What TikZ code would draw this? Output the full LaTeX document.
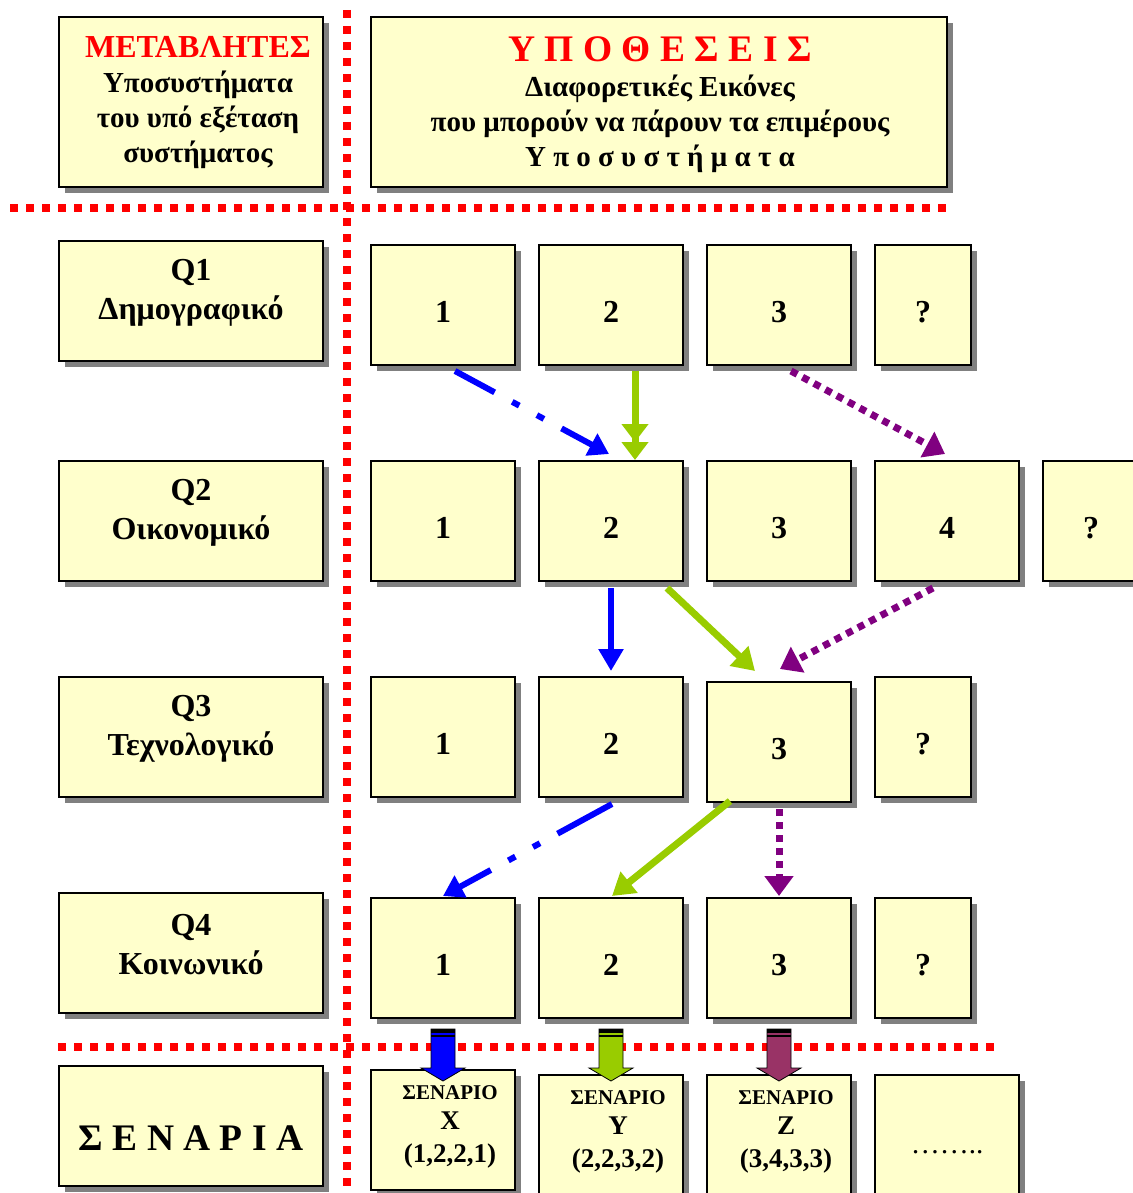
\documentclass[tikz,border=0pt]{standalone}
\usepackage{fontspec}
\setmainfont{Liberation Serif}
\usetikzlibrary{shadows,arrows.meta}

\definecolor{boxfill}{HTML}{FFFFCC}
\definecolor{ablue}{HTML}{0000FF}
\definecolor{agreen}{HTML}{99CC00}
\definecolor{apurple}{HTML}{800080}
\definecolor{amaroon}{HTML}{993366}

\tikzset{
  box/.style={draw, line width=2pt, fill=boxfill, inner sep=0pt,
    drop shadow={shadow xshift=6pt, shadow yshift=-6pt, opacity=1, fill=black!50},
    minimum width=144pt, minimum height=120pt, text height=34pt, text depth=0pt,
    font=\bfseries\fontsize{32}{36}\selectfont},
  txt/.style={align=center, inner sep=0pt, font=\bfseries\fontsize{29}{35}\selectfont},
  sep/.style={red, line width=7.5pt, dash pattern=on 8pt off 8pt},
  bluedd/.style={ablue, line width=6pt, dash pattern=on 45pt off 20pt on 8pt off 20pt on 8pt off 20pt,
    -{Triangle[length=20pt,width=24pt]}},
  blueln/.style={ablue, line width=6pt, -{Triangle[length=22pt,width=24pt]}},
  greenln/.style={agreen, line width=7pt, -{Triangle[length=22pt,width=26pt]}},
  purpledot/.style={apurple, line width=7pt, dash pattern=on 7pt off 6pt,
    -{Triangle[length=20pt,width=28pt]}}
}

\begin{document}
\begin{tikzpicture}[x=1pt, y=-1pt]
  \useasboundingbox (0,0) rectangle (1132,1193);

  % red separators
  \draw[sep] (347,10) -- (347,1193);
  \draw[sep] (10,208) -- (947,208);
  \draw[sep] (58,1047) -- (995,1047);

  % headers
  \node[box, minimum width=264pt, minimum height=170pt] (var) at (191,102) {};
  \node[txt] (vart) at ([shift={(7,1)}]var.center)
    {\textcolor{red}{\fontsize{32}{35}\selectfont ΜΕΤΑΒΛΗΤΕΣ}\\Υποσυστήματα\\του υπό εξέταση\\συστήματος};
  \node[box, minimum width=576pt, minimum height=170pt] (hyp) at (659,102) {};
  \node[txt] (hypt) at ([shift={(1,3)}]hyp.center)
    {\textcolor{red}{\fontsize{37.5}{40}\selectfont Υ Π Ο Θ Ε Σ Ε Ι Σ}\\Διαφορετικές Εικόνες\\που μπορούν να πάρουν τα επιμέρους\\Υ π ο σ υ σ τ ή μ α τ α};

  % variables
  \foreach \nm/\yy/\ttl/\sub in {q1/301/Q1/Δημογραφικό, q2/521/Q2/Οικονομικό,
      q3/737/Q3/Τεχνολογικό, q4/953/Q4/Κοινωνικό}{
    \node[box, minimum width=264pt] (\nm) at (191,\yy) {};
    \node[txt, font=\bfseries\fontsize{32}{39}\selectfont] (t\nm) at ([yshift=8pt]\nm.center) {\ttl\\\sub};
  }
  \node[box, minimum width=264pt] (scen) at (191,1126) {};
  \node[txt, font=\bfseries\fontsize{37.5}{40}\selectfont] (tscen) at ([yshift=-12pt]scen.center) {Σ Ε Ν Α Ρ Ι Α};

  % Q1
  \node[box] (a1) at (443,305) {1};
  \node[box] (a2) at (611,305) {2};
  \node[box] (a3) at (779,305) {3};
  \node[box, minimum width=96pt] (a4) at (923,305) {?};
  % Q2
  \node[box] (b1) at (443,521) {1};
  \node[box] (b2) at (611,521) {2};
  \node[box] (b3) at (779,521) {3};
  \node[box] (b4) at (947,521) {4};
  \node[box, minimum width=96pt] (b5) at (1091,521) {?};
  % Q3
  \node[box] (c1) at (443,737) {1};
  \node[box] (c2) at (611,737) {2};
  \node[box] (c3) at (779,742) {3};
  \node[box, minimum width=96pt] (c4) at (923,737) {?};
  % Q4
  \node[box] (d1) at (443,958) {1};
  \node[box] (d2) at (611,958) {2};
  \node[box] (d3) at (779,958) {3};
  \node[box, minimum width=96pt] (d4) at (923,958) {?};

  % scenarios
  \node[box] (sx) at (443,1130) {};
  \node[box] (sy) at (611,1135) {};
  \node[box] (sz) at (779,1135) {};
  \node[box] (sdots) at (947,1135) {};
  \foreach \nm/\ltr/\vals in {sx/X/{(1,2,2,1)}, sy/Y/{(2,2,3,2)}, sz/Z/{(3,4,3,3)}}{
    \node[txt, font=\bfseries\fontsize{27}{33}\selectfont] (t\nm) at ([shift={(7,-3)}]\nm.center)
      {{\fontsize{21}{24}\selectfont ΣΕΝΑΡΙΟ}\\[-3pt]\ltr\\\vals};
  }
  \node[txt, font=\fontsize{29}{30}\selectfont] (tsdots) at ([yshift=-17pt]sdots.center) {……..};

  % Q1 -> Q2
  \draw[bluedd] ([shift={(12,5)}]a1.south) -- ([shift={(-2,-6)}]b2.north);
  \draw[greenln, -{Triangle[length=18pt,width=26pt]Triangle[length=18pt,width=26pt]}]
    ([shift={(24,5)}]a2.south) -- ([shift={(24,0)}]b2.north);
  \draw[purpledot] ([shift={(12,5)}]a3.south) -- ([shift={(-2,-6)}]b4.north);
  % Q2 -> Q3
  \draw[blueln] ([yshift=-6pt]b2.south) -- ([yshift=5pt]c2.north);
  \draw[greenln] ([shift={(56,6)}]b2.south) -- ([shift={(-24,-10)}]c3.north);
  \draw[purpledot] ([shift={(-14,6)}]b4.south) -- ([shift={(1,-12)}]c3.north);
  % Q3 -> Q4
  \draw[bluedd, dash pattern=on 62pt off 20pt on 8pt off 20pt on 8pt off 20pt]
    ([shift={(1,6)}]c2.south) -- ([shift={(0,-1)}]d1.north);
  \draw[greenln] ([shift={(-49,-2)}]c3.south) -- ([shift={(1,-1)}]d2.north);
  \draw[purpledot] ([shift={(0,6)}]c3.south) -- ([shift={(0,-1)}]d3.north);

  % block arrows into the scenarios
  \foreach \nm/\col in {d1/ablue, d2/agreen, d3/amaroon}{
    \begin{scope}[shift={(\nm.south)}]
      \filldraw[fill=\col, draw=black, line width=0.8pt]
        (-12,10) -- (12,10) -- (12,49) -- (22,49) -- (0,62) -- (-22,49) -- (-12,49) -- cycle;
      \fill[black] (-12,10) rectangle (12,14);
      \fill[black] (-12,16) rectangle (12,17.5);
    \end{scope}
  }
\end{tikzpicture}
\end{document}
